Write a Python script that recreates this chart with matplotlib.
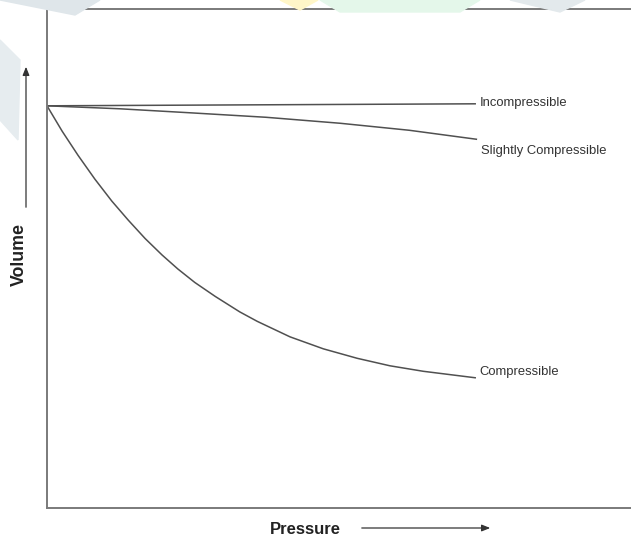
import matplotlib
matplotlib.use("Agg")
import matplotlib.pyplot as plt
from matplotlib.patches import Polygon

# pressure / volume in arbitrary units (axes run 0..10)
incomp_p = [0.0, 7.33]
incomp_v = [8.06, 8.10]

slight_p = [0.0, 1.25, 2.45, 3.75, 5.02, 6.20, 7.35]
slight_v = [8.06, 8.00, 7.92, 7.83, 7.71, 7.57, 7.39]

comp_p = [0.0, 0.26, 0.53, 0.82, 1.11, 1.39, 1.68, 1.97, 2.24, 2.53, 2.88,
          3.30, 3.60, 4.16, 4.73, 5.31, 5.87, 6.44, 7.33]
comp_v = [8.06, 7.55, 7.07, 6.59, 6.15, 5.77, 5.40, 5.07, 4.79, 4.52, 4.24,
          3.93, 3.74, 3.43, 3.19, 3.00, 2.85, 2.74, 2.61]

labels = ["Incompressible", "Slightly Compressible", "Compressible"]
label_v = [8.12, 7.15, 2.73]

plt.rcParams['font.family'] = ['Liberation Sans', 'DejaVu Sans']

fig = plt.figure(figsize=(6.31, 5.4), dpi=100)
W, H = 631, 540

# faint watermark shapes behind the chart
wm = [
    ([(0, 540), (100, 540), (75, 525)], "#dfe6ea"),
    ([(280, 540), (318, 540), (300, 530)], "#fff6c8"),
    ([(320, 540), (480, 540), (460, 528), (340, 528)], "#e4f7ea"),
    ([(510, 540), (585, 540), (560, 528)], "#e3e9ec"),
    ([(0, 500), (20, 480), (18, 400), (0, 420)], "#e6ecef"),
]
for pts, col in wm:
    fig.patches.append(Polygon([(x / W, y / H) for x, y in pts], closed=True,
                               transform=fig.transFigure, color=col, zorder=0))

ax = fig.add_axes([47 / W, 32 / H, 590 / W, 499 / H])
ax.set_xlim(0, 10.1)
ax.set_ylim(0, 10)
ax.patch.set_alpha(0)

lc = "#505050"
for xs, ys in [(incomp_p, incomp_v), (slight_p, slight_v), (comp_p, comp_v)]:
    ax.plot(xs, ys, color=lc, lw=1.1, solid_joinstyle="round")

ends = [incomp_p[-1], slight_p[-1], comp_p[-1]]
for lab, x, y in zip(labels, ends, label_v):
    ax.text(x + 0.08, y, lab, fontsize=9.4, color="#333333", va="center", ha="left")

ax.set_xticks([])
ax.set_yticks([])
for s in ["left", "bottom", "top"]:
    ax.spines[s].set_color("#7a7a7a")
    ax.spines[s].set_linewidth(1.4)
ax.spines["right"].set_visible(False)

# axis titles with arrows
fig.text(305 / W, 1 - 530 / H, "Pressure", fontsize=12, fontweight="bold",
         ha="center", va="center", color="#222222")
fig.text(19 / W, 1 - 254 / H, "Volume", fontsize=12.8, fontweight="bold",
         rotation=90, ha="center", va="center", color="#222222")

arrow = dict(arrowstyle="-|>,head_length=0.5,head_width=0.2", color="#333333", lw=0.9)
ax.annotate("", xy=(493 / W, 1 - 528 / H), xytext=(359 / W, 1 - 528 / H),
            xycoords="figure fraction", textcoords="figure fraction", arrowprops=arrow)
ax.annotate("", xy=(26 / W, 1 - 64 / H), xytext=(26 / W, 1 - 210 / H),
            xycoords="figure fraction", textcoords="figure fraction", arrowprops=arrow)

fig.savefig("out.png", dpi=100)
